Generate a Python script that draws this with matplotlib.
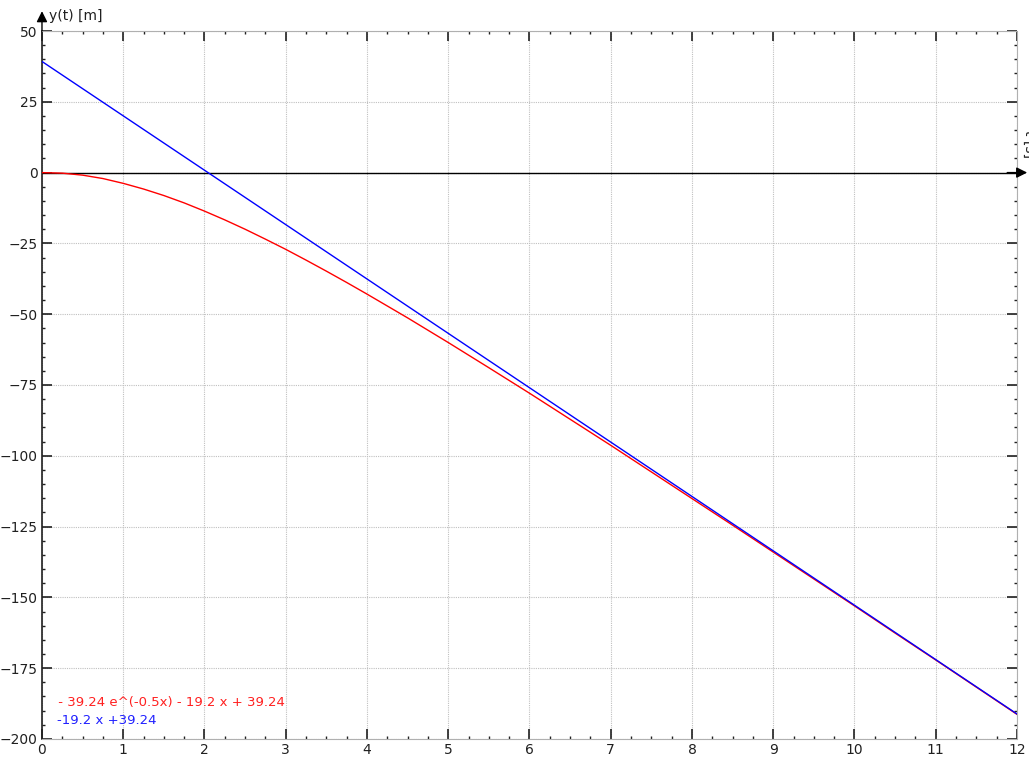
import matplotlib
matplotlib.use("Agg")
import matplotlib.pyplot as plt
from matplotlib.ticker import MultipleLocator

# values
t_red = [0, 0.25, 0.5, 0.75, 1, 1.25, 1.5, 1.75, 2, 2.25, 2.5, 2.75, 3,
         3.25, 3.5, 3.75, 4, 4.5, 5, 5.5, 6, 6.5, 7, 7.5, 8, 8.5, 9, 9.5,
         10, 10.5, 11, 11.5, 12]
y_red = [0, -0.2, -0.9, -2.1, -3.8, -5.8, -8.1, -10.7, -13.6, -16.7, -20.0,
         -23.5, -27.1, -30.9, -34.8, -38.8, -42.9, -51.3, -60.0, -68.9,
         -77.9, -87.1, -96.3, -105.7, -115.1, -124.5, -134.0, -143.5,
         -153.0, -162.6, -172.1, -181.7, -191.3]
t_blue = [0, 12]
y_blue = [39.24, -191.16]

red_label = " - 39.24 e^(-0.5x) - 19.2 x + 39.24"
blue_label = "-19.2 x +39.24"
x_ticks = list(range(0, 13))
y_ticks = [50, 25, 0, -25, -50, -75, -100, -125, -150, -175, -200]

plt.rcParams['font.family'] = ['DejaVu Sans']
fig = plt.figure(figsize=(10.29, 7.58), dpi=100)
ax = fig.add_axes([0.0408, 0.0251, 0.9475, 0.934])

ax.set_xlim(0, 12)
ax.set_ylim(-200, 50)
ax.set_xticks(x_ticks)
ax.set_yticks(y_ticks)
ax.xaxis.set_minor_locator(MultipleLocator(0.25))
ax.yaxis.set_minor_locator(MultipleLocator(5))
ax.grid(True, which='major', color='#c0c0c0', linestyle=(0, (1, 1)), linewidth=0.8)
ax.tick_params(which='both', direction='in', top=True, right=True,
               labelsize=10, colors='#202020', pad=3)
ax.tick_params(which='major', length=7, width=1.2)
ax.tick_params(which='minor', length=2, width=1)
ax.spines['left'].set_color('#202020')
ax.spines['left'].set_linewidth(1.2)
for side in ['top', 'right', 'bottom']:
    ax.spines[side].set_color('#b0b0b0')
    ax.spines[side].set_linestyle((0, (1, 1)))
    ax.spines[side].set_linewidth(0.8)

# zero line with arrow at right end
y0 = (0 - (-200)) / 250
ax.axhline(0, color='black', linewidth=1, zorder=2)
ax.annotate('', xy=(1.0105, y0), xycoords='axes fraction',
            xytext=(0.99, y0), textcoords='axes fraction',
            arrowprops=dict(arrowstyle='-|>', color='black', lw=1,
                            mutation_scale=16, shrinkA=0, shrinkB=0),
            annotation_clip=False)
# y axis arrow
ax.annotate('', xy=(0, 1.028), xycoords='axes fraction', xytext=(0, 1.0),
            textcoords='axes fraction',
            arrowprops=dict(arrowstyle='-|>', color='black', lw=1,
                            mutation_scale=16, shrinkA=0, shrinkB=0),
            annotation_clip=False)
ax.text(0.007, 1.021, "y(t) [m]", transform=ax.transAxes, fontsize=10,
        color='#202020', va='center', ha='left')
ax.text(1.0055, 0.84, "t [s]", transform=ax.transAxes, fontsize=10,
        color='#202020', rotation=270, va='center', ha='left')

ax.plot(t_red, y_red, color='#ff0000', linewidth=1, zorder=3)
ax.plot(t_blue, y_blue, color='#0000ff', linewidth=1, zorder=4)

ax.text(0.15, -187, red_label, color='#ff2020', fontsize=9.5, va='center')
ax.text(0.19, -193.5, blue_label, color='#2020ff', fontsize=9.5, va='center')

fig.savefig("out.png", dpi=100)
